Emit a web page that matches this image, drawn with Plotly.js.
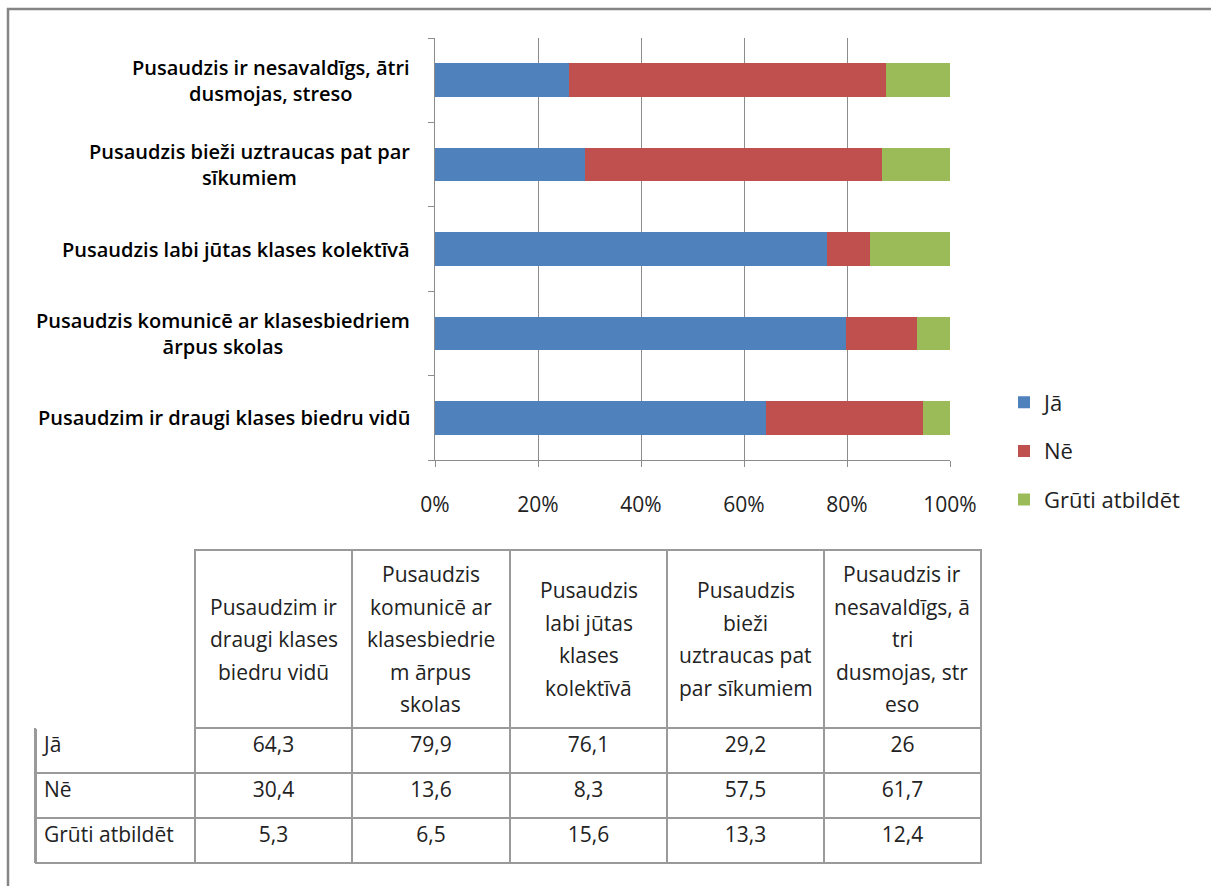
<!DOCTYPE html>
<html><head><meta charset="utf-8">
<script src="https://cdn.plot.ly/plotly-3.0.1.min.js"></script>
<style>html,body{margin:0;padding:0;background:#fff;}#chart{width:1211px;height:886px;}</style>
</head><body><div id="chart"></div>
<script>
// Data
const categories = ["Pusaudzim ir draugi klases biedru vidū","Pusaudzis komunicē ar klasesbiedriem ārpus skolas","Pusaudzis labi jūtas klases kolektīvā","Pusaudzis bieži uztraucas pat par sīkumiem","Pusaudzis ir nesavaldīgs, ātri dusmojas, streso"];
const categoryLabels = ["Pusaudzim ir draugi klases biedru vidū","Pusaudzis komunicē ar klasesbiedriem<br>ārpus skolas","Pusaudzis labi jūtas klases kolektīvā","Pusaudzis bieži uztraucas pat par<br>sīkumiem","Pusaudzis ir nesavaldīgs, ātri<br>dusmojas, streso"];
const tableHeaders = ["Pusaudzim ir<br>draugi klases<br>biedru vidū","Pusaudzis<br>komunicē ar<br>klasesbiedrie<br>m ārpus<br>skolas","Pusaudzis<br>labi jūtas<br>klases<br>kolektīvā","Pusaudzis<br>bieži<br>uztraucas pat<br>par sīkumiem","Pusaudzis ir<br>nesavaldīgs, ā<br>tri<br>dusmojas, str<br>eso"];
const seriesNames = ["Jā","Nē","Grūti atbildēt"];
const ja = [64.3, 79.9, 76.1, 29.2, 26];
const ne = [30.4, 13.6, 8.3, 57.5, 61.7];
const gruti = [5.3, 6.5, 15.6, 13.3, 12.4];
const xTicks = [0,20,40,60,80,100];

const colors = ["#4F81BD","#C0504D","#9BBB59"];
const FONT = "'Open Sans', Lato, sans-serif";
const W = 1211, H = 886;
const series = [ja, ne, gruti];

const traces = series.map((vals, i) => ({
  type: "bar", orientation: "h", name: seriesNames[i],
  y: categories, x: vals, marker: {color: colors[i], line: {width: 0}},
  legendgroup: "g" + i, hoverinfo: "x+name"
}));

// table geometry
const tblLeft = 36, tblRight = 981, hdrTop = 550, hdrH = 178, rowH = 45;
const colW = [159, 157, 158, 157, 157, 157];
const fmt = v => String(v).replace(".", ",");
const lineCol = "#9a9a9a";
traces.push({
  type: "table",
  domain: {x: [tblLeft/W, tblRight/W], y: [0, 1 - hdrTop/H]},
  columnwidth: colW,
  header: {
    values: ["", "", "", "", "", ""],
    height: hdrH,
    fill: {color: "white"},
    line: {color: ["white", lineCol, lineCol, lineCol, lineCol, lineCol], width: 1.2},
    font: {family: FONT, size: 21, color: "#222"}
  },
  cells: {
    values: [seriesNames.slice()].concat(categories.map((c, j) => series.map(s => fmt(s[j])))),
    height: rowH,
    align: ["left", "center", "center", "center", "center", "center"],
    fill: {color: "white"},
    line: {color: lineCol, width: 1.2},
    font: {family: FONT, size: 21, color: "#222"}
  }
});

const annotations = categories.map((c, i) => ({
  xref: "paper", yref: "y", x: 412/W, y: c, xanchor: "right", yanchor: "middle",
  text: categoryLabels[i], align: "center", showarrow: false,
  font: {family: FONT, size: 20, color: "#000", weight: 600}
}));

// header labels of the table, one annotation per line for Excel-like line spacing
const totalW = colW.reduce((a, b) => a + b, 0);
const scale = (tblRight - tblLeft) / totalW;
let acc = tblLeft + colW[0] * scale;
tableHeaders.forEach((h, i) => {
  const w = colW[i + 1] * scale;
  const cx = acc + w / 2; acc += w;
  const lines = h.split("<br>");
  const lh = 32.5, cy = hdrTop + hdrH / 2;
  lines.forEach((ln, k) => {
    annotations.push({
      xref: "paper", yref: "paper", x: cx / W, y: 1 - (cy + (k - (lines.length - 1) / 2) * lh) / H,
      xanchor: "center", yanchor: "middle", text: ln, showarrow: false,
      font: {family: FONT, size: 21, color: "#222"}
    });
  });
});

const bodyBottom = hdrTop + hdrH + rowH * seriesNames.length;
const layout = {
  width: W, height: H,
  margin: {l: 0, r: 0, t: 0, b: 0},
  paper_bgcolor: "white", plot_bgcolor: "white",
  barmode: "stack", barnorm: "percent", bargap: 0.6,
  showlegend: true,
  legend: {x: 1004/W, y: 1 - 451/H, xanchor: "left", yanchor: "middle",
    traceorder: "grouped", tracegroupgap: 17,
    font: {family: FONT, size: 22, color: "#222"}, bgcolor: "rgba(0,0,0,0)"},
  xaxis: {domain: [435/W, 950/W], range: [0, 100], tickvals: xTicks, ticktext: xTicks.map(v => v + "%"),
    showgrid: true, gridcolor: "#8c8c8c", gridwidth: 1,
    showline: true, linecolor: "#8c8c8c", ticks: "outside", ticklen: 6, tickcolor: "#8c8c8c",
    ticklabelstandoff: 20, zeroline: false,
    tickfont: {family: FONT, size: 21, color: "#222"}, fixedrange: true},
  yaxis: {domain: [1 - 460/H, 1 - 38/H], type: "category", categoryorder: "array", categoryarray: categories,
    showticklabels: false, showgrid: false, showline: true, linecolor: "#8c8c8c",
    ticks: "outside", ticklen: 6, tickcolor: "#8c8c8c", tickson: "boundaries", fixedrange: true},
  annotations: annotations,
  shapes: [
    {type: "rect", xref: "paper", yref: "paper", x0: 8/W, x1: 1.05, y0: -0.05, y1: 1 - 9/H,
      line: {color: "#858585", width: 2.5}},
    // left border of the table body
    {type: "line", xref: "paper", yref: "paper", layer: "above",
      x0: (tblLeft - 1)/W, x1: (tblLeft - 1)/W,
      y0: 1 - (hdrTop + hdrH)/H, y1: 1 - bodyBottom/H,
      line: {color: lineCol, width: 2}}
  ]
};

Plotly.newPlot("chart", traces, layout, {displayModeBar: false});
</script></body></html>
